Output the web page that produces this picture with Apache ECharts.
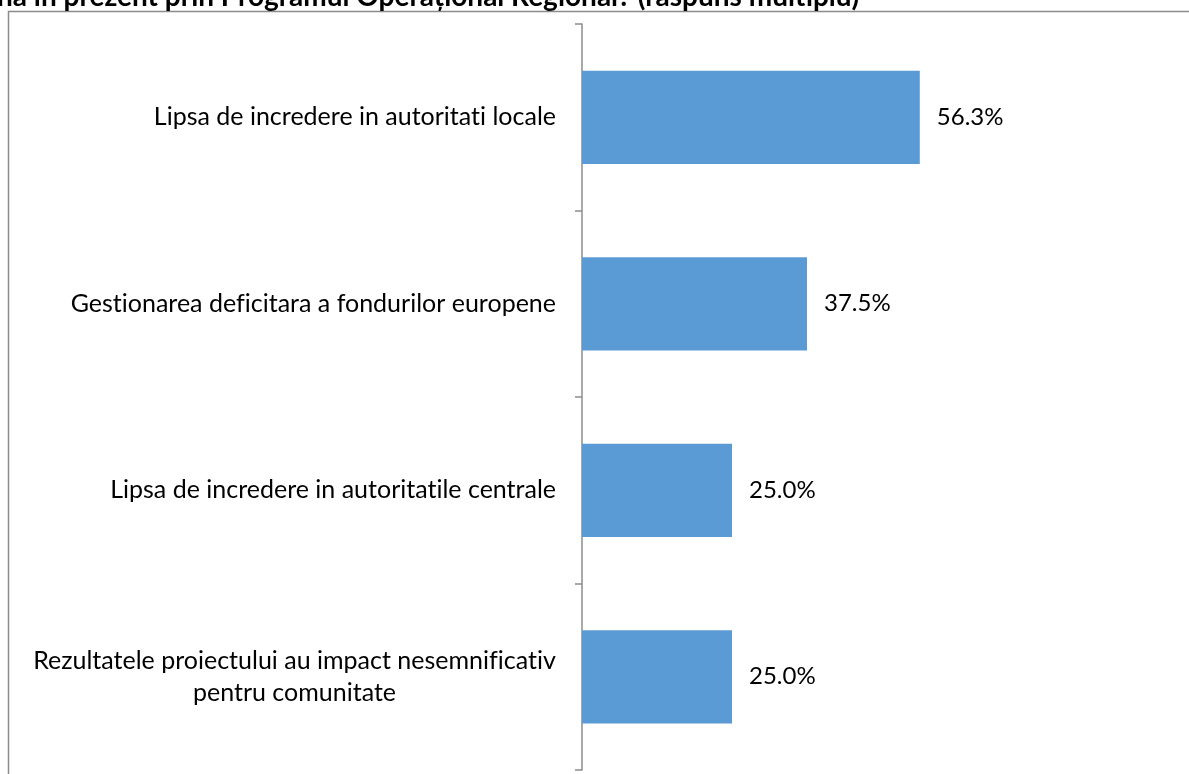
<!DOCTYPE html>
<html>
<head>
<meta charset="utf-8">
<script src="https://cdn.jsdelivr.net/npm/echarts@6/dist/echarts.min.js"></script>
<style>
  html, body { margin: 0; padding: 0; background: #ffffff; }
  #chart { width: 1189px; height: 774px; }
</style>
</head>
<body>
<div id="chart"></div>
<script>
// Reasons given, share of respondents (multiple answers allowed)
const categories = [
  'Lipsa de incredere in autoritati locale',
  'Gestionarea deficitara a fondurilor europene',
  'Lipsa de incredere in autoritatile centrale',
  'Rezultatele proiectului au impact nesemnificativ\npentru comunitate'
];
const shares = [56.3, 37.5, 25.0, 25.0];
const titleText = 'na în prezent prin Programul Operațional Regional? (răspuns multiplu)';

const FONT = 'Lato, "Open Sans", sans-serif';
const LABEL_SIZE = 25;
const VALUE_SIZE = 24;

// keep "ti" / "fi" as separate letters instead of the font's ligatures
function noLig(s) {
  return s.replace(/t(?=i)/g, 't\u200C').replace(/f(?=i)/g, 'f\u200C');
}

// width of the widest line, so wrapped labels can be centred line by line
const ctx = document.createElement('canvas').getContext('2d');
ctx.font = LABEL_SIZE + 'px ' + FONT;
function blockWidth(text) {
  return Math.max.apply(null, text.split('\n').map(l => ctx.measureText(l).width));
}

const chart = echarts.init(document.getElementById('chart'), null, { renderer: 'canvas' });

chart.setOption({
  backgroundColor: '#ffffff',
  animation: false,
  graphic: [
    {
      type: 'rect',
      silent: true,
      shape: { x: 8.5, y: 11.5, width: 1400, height: 1000 },
      style: { fill: 'none', stroke: '#8c8c8c', lineWidth: 1.5 }
    },
    {
      type: 'text',
      silent: true,
      style: {
        x: -3, y: 11,
        text: titleText,
        fill: '#000000',
        font: 'bold 28px ' + FONT,
        verticalAlign: 'bottom'
      }
    }
  ],
  grid: { left: 582, top: 24, width: 600, height: 746, containLabel: false },
  xAxis: {
    type: 'value',
    min: 0,
    max: 100,
    show: false
  },
  yAxis: {
    type: 'category',
    data: categories,
    inverse: true,
    axisLine: { show: true, lineStyle: { color: '#8c8c8c', width: 1.5 } },
    axisTick: { show: true, length: 7, lineStyle: { color: '#8c8c8c', width: 1.5 } },
    axisLabel: {
      margin: 26,
      color: '#000000',
      fontFamily: FONT,
      fontSize: LABEL_SIZE,
      lineHeight: 32,
      formatter: function (v) {
        if (v.indexOf('\n') < 0) return noLig(v);
        return v.split('\n').map(l => '{c|' + noLig(l) + '}').join('\n');
      },
      rich: {
        c: {
          width: Math.ceil(blockWidth(categories[3])),
          align: 'center',
          fontFamily: FONT,
          fontSize: LABEL_SIZE,
          lineHeight: 32,
          color: '#000000'
        }
      }
    }
  },
  series: [
    {
      type: 'bar',
      data: shares,
      barWidth: '50%',
      itemStyle: { color: '#5B9BD5' },
      label: {
        show: true,
        position: 'right',
        distance: 17,
        color: '#000000',
        fontFamily: FONT,
        fontSize: VALUE_SIZE,
        formatter: p => p.value.toFixed(1) + '%'
      }
    }
  ]
});
</script>
</body>
</html>
